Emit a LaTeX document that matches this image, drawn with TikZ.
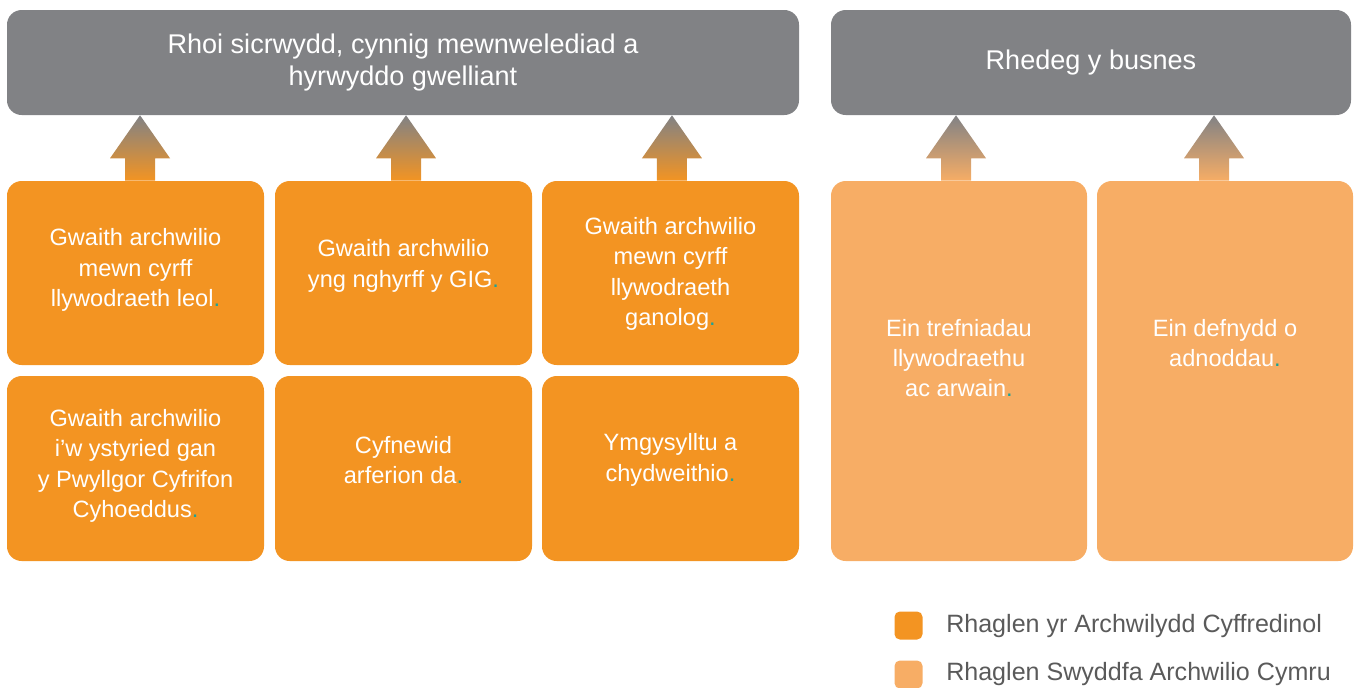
\documentclass[tikz,border=0pt]{standalone}
\usepackage{fontspec}
\setmainfont{Liberation Sans}
\usepackage{tikz}
\usetikzlibrary{calc}
\definecolor{headgray}{HTML}{818285}
\definecolor{auditorange}{HTML}{F39422}
\definecolor{officeorange}{HTML}{F7AD65}
\definecolor{dotteal}{HTML}{1AA39A}
\definecolor{keygray}{HTML}{5A5A5A}
\tikzstyle{every node}=[inner sep=0pt]
\tikzstyle{header}=[fill=headgray,rounded corners=11pt,minimum height=78.75pt,text=white,align=center,font=\fontsize{20.3}{24}\selectfont]
\tikzstyle{workbox}=[fill=auditorange,rounded corners=11pt,minimum width=192.75pt]
\tikzstyle{officebox}=[fill=officeorange,rounded corners=11pt,minimum width=192pt,minimum height=285pt]
\tikzstyle{boxtext}=[text=white,align=center,font=\fontsize{17.7}{22.8}\selectfont]
\tikzstyle{keybox}=[rounded corners=4pt,minimum size=21pt]
\tikzstyle{keytext}=[text=keygray,anchor=west,font=\fontsize{18.8}{22}\selectfont]
\tikzstyle{auditriser}=[top color=headgray,bottom color=auditorange]
\tikzstyle{officeriser}=[top color=headgray,bottom color=officeorange]
\newcommand{\dotend}{\textcolor{dotteal}{.}}
\newcommand{\riserarrow}[4]{%
  \shade[#1] let \p1=(#3.north), \p2=(#4.south) in
    ({\x1+(#2)-11.25pt},\y1) -- ({\x1+(#2)-11.25pt},{\y2-32.25pt}) -- ({\x1+(#2)-22.5pt},{\y2-32.25pt})
    -- ({\x1+(#2)},\y2) -- ({\x1+(#2)+22.5pt},{\y2-32.25pt}) -- ({\x1+(#2)+11.25pt},{\y2-32.25pt})
    -- ({\x1+(#2)+11.25pt},\y1) -- cycle;}

\begin{document}
\begin{tikzpicture}[x=0.75pt,y=-0.75pt]
  \useasboundingbox (0,0) rectangle (1357,687);
  \node[header,minimum width=594pt] (assurance) at (403,62.5) {Rhoi sicrwydd, cynnig mewnwelediad a\\hyrwyddo gwelliant};
  \node[header,minimum width=390pt] (business) at (1091,62.5) {Rhedeg y busnes};

  \node[workbox,minimum height=138pt] (local) at (135.5,273) {};
  \node[workbox,minimum height=138pt] (nhs) at (403.5,273) {};
  \node[workbox,minimum height=138pt] (central) at (670.5,273) {};
  \node[workbox,minimum height=138.75pt] (pac) at (135.5,468.5) {};
  \node[workbox,minimum height=138.75pt] (practice) at (403.5,468.5) {};
  \node[workbox,minimum height=138.75pt] (engage) at (670.5,468.5) {};
  \node[officebox] (governance) at (959,371) {};
  \node[officebox] (resources) at (1225,371) {};

  \node[boxtext] (localtext) at (135.5,270) {Gwaith archwilio\\mewn cyrff\\llywodraeth leol\dotend};
  \node[boxtext] (nhstext) at (403.5,266) {Gwaith archwilio\\yng nghyrff y GIG\dotend};
  \node[boxtext] (centraltext) at (670.5,274) {Gwaith archwilio\\mewn cyrff\\llywodraeth\\ganolog\dotend};
  \node[boxtext] (pactext) at (135.5,466) {Gwaith archwilio\\i'w ystyried gan\\y Pwyllgor Cyfrifon\\Cyhoeddus\dotend};
  \node[boxtext] (practicetext) at (403.5,460) {Cyfnewid\\arferion da\dotend};
  \node[boxtext] (engagetext) at (670.5,460) {Ymgysylltu a\\chydweithio\dotend};
  \node[boxtext] (governancetext) at (959,358) {Ein trefniadau\\llywodraethu\\ac arwain\dotend};
  \node[boxtext] (resourcestext) at (1225,343) {Ein defnydd o\\adnoddau\dotend};

  \riserarrow{auditriser}{3.4pt}{local}{assurance}
  \riserarrow{auditriser}{1.9pt}{nhs}{assurance}
  \riserarrow{auditriser}{1.1pt}{central}{assurance}
  \riserarrow{officeriser}{-2.25pt}{governance}{business}
  \riserarrow{officeriser}{-8.25pt}{resources}{business}

  \node[keybox,fill=auditorange] (keyaudit) at (908.5,625.5) {};
  \node[keybox,fill=officeorange] (keyoffice) at (908.5,674.5) {};
  \node[keytext] (keyaudittext) at (946,626) {Rhaglen yr Archwilydd Cyffredinol};
  \node[keytext] (keyofficetext) at (946,674) {Rhaglen Swyddfa Archwilio Cymru};
\end{tikzpicture}
\end{document}
